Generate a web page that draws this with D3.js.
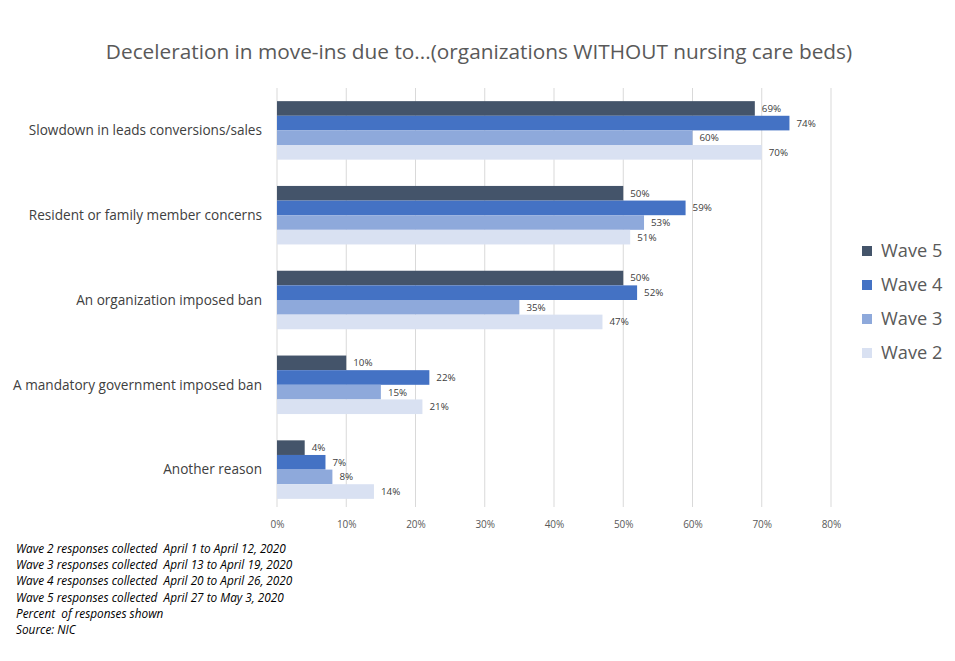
<!DOCTYPE html>
<html>
<head>
<meta charset="utf-8">
<script src="https://cdn.jsdelivr.net/npm/d3@7"></script>
<style>
  body { margin: 0; background: #fff; }
  svg text { font-family: "Open Sans", "Noto Sans", sans-serif; }
</style>
</head>
<body>
<svg id="chart" width="955" height="661"></svg>
<script>
// Chart data
const categories = [
  "Slowdown in leads conversions/sales",
  "Resident or family member concerns",
  "An organization imposed ban",
  "A mandatory government imposed ban",
  "Another reason"
];
const waves = ["Wave 5", "Wave 4", "Wave 3", "Wave 2"];
const wave5 = [69, 50, 50, 10, 4];
const wave4 = [74, 59, 52, 22, 7];
const wave3 = [60, 53, 35, 15, 8];
const wave2 = [70, 51, 47, 21, 14];
const xTicks = [0, 10, 20, 30, 40, 50, 60, 70, 80];
const notes = [
  "Wave 2 responses collected  April 1 to April 12, 2020",
  "Wave 3 responses collected  April 13 to April 19, 2020",
  "Wave 4 responses collected  April 20 to April 26, 2020",
  "Wave 5 responses collected  April 27 to May 3, 2020",
  "Percent  of responses shown",
  "Source: NIC"
];
const colors = ["#44546A", "#4472C4", "#8EA9DB", "#D9E1F2"];

const series = [wave5, wave4, wave3, wave2];

const svg = d3.select("#chart");

// scales
const x = d3.scaleLinear().domain([0, 80]).range([277, 831]);
const y = d3.scaleBand().domain(categories).range([88, 512]).paddingInner(0.31).paddingOuter(0.155);
const yInner = d3.scaleBand().domain(waves).range([0, y.bandwidth()]);
const color = d3.scaleOrdinal().domain(waves).range(colors);

// title
svg.append("text")
  .attr("x", 479).attr("y", 59)
  .attr("text-anchor", "middle")
  .attr("font-size", 20.8)
  .attr("fill", "#595959")
  .text("Deceleration in move-ins due to...(organizations WITHOUT nursing care beds)");

// gridlines
svg.append("g")
  .selectAll("line")
  .data(xTicks)
  .join("line")
  .attr("x1", d => x(d)).attr("x2", d => x(d))
  .attr("y1", 88).attr("y2", 507)
  .attr("stroke", "#d9d9d9")
  .attr("stroke-width", 1);

// x axis labels
const xAxis = d3.axisBottom(x).tickValues(xTicks).tickFormat(d => d + "%").tickSize(0);
svg.append("g")
  .attr("transform", "translate(0,518)")
  .call(xAxis)
  .call(g => g.select(".domain").remove())
  .call(g => g.selectAll("text").attr("font-size", 10).attr("fill", "#595959")
    .style("font-family", '"Open Sans", sans-serif'));

// category labels
svg.append("g")
  .selectAll("text")
  .data(categories)
  .join("text")
  .attr("x", 262)
  .attr("y", d => y(d) + y.bandwidth() / 2)
  .attr("dy", "0.35em")
  .attr("text-anchor", "end")
  .attr("font-size", 13.6)
  .attr("fill", "#404040")
  .text(d => d);

// bars
const rows = [];
categories.forEach((c, i) => {
  waves.forEach((w, j) => rows.push({ cat: c, wave: w, value: series[j][i] }));
});

const bars = svg.append("g");
bars.selectAll("rect")
  .data(rows)
  .join("rect")
  .attr("x", x(0))
  .attr("y", d => y(d.cat) + yInner(d.wave))
  .attr("width", d => x(d.value) - x(0))
  .attr("height", yInner.bandwidth())
  .attr("fill", d => color(d.wave));

bars.selectAll("text")
  .data(rows)
  .join("text")
  .attr("x", d => x(d.value) + 7)
  .attr("y", d => y(d.cat) + yInner(d.wave) + yInner.bandwidth() / 2)
  .attr("dy", "0.35em")
  .attr("font-size", 9.8)
  .attr("fill", "#404040")
  .text(d => d.value + "%");

// legend
const legend = svg.append("g")
  .selectAll("g")
  .data(waves)
  .join("g")
  .attr("transform", (d, i) => `translate(862,${251 + i * 34})`);
legend.append("rect")
  .attr("x", 0).attr("y", -5)
  .attr("width", 10).attr("height", 10)
  .attr("fill", d => color(d));
legend.append("text")
  .attr("x", 19).attr("y", 0)
  .attr("dy", "0.35em")
  .attr("font-size", 18.2)
  .attr("fill", "#595959")
  .text(d => d);

// footnotes
svg.append("g")
  .selectAll("text")
  .data(notes)
  .join("text")
  .attr("x", 16)
  .attr("y", (d, i) => 553 + i * 16.2)
  .attr("font-size", 11.8)
  .attr("font-style", "italic")
  .attr("fill", "#000")
  .attr("xml:space", "preserve")
  .style("white-space", "pre")
  .text(d => d);
</script>
</body>
</html>
